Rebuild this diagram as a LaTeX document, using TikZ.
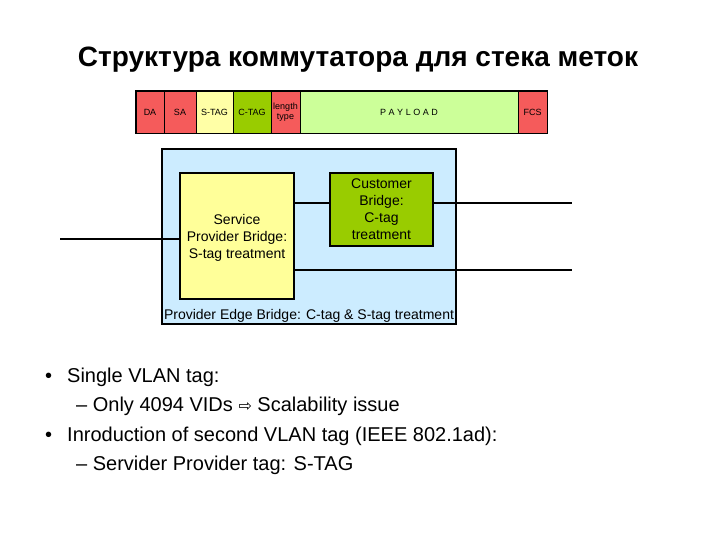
\documentclass[tikz,border=0pt]{standalone}
\usepackage{fontspec}
\setmainfont{Liberation Sans}
\newfontfamily\symfont{DejaVu Sans}
\definecolor{fred}{HTML}{F55B5B}
\definecolor{syel}{HTML}{FFFFA6}
\definecolor{cgrn}{HTML}{99CC00}
\definecolor{pgrn}{HTML}{CCFF99}
\definecolor{lblue}{HTML}{CCECFF}
\definecolor{bbyel}{HTML}{FFFF99}
\tikzset{
  cell/.style={draw=black, line width=0.6pt, inner sep=0pt, font=\fontsize{9}{9}\selectfont, align=center},
  bridge/.style={draw=black, line width=1.6pt, inner sep=0pt, align=center, font=\fontsize{14}{17}\selectfont},
  wire/.style={line width=1.6pt},
  bul/.style={anchor=base west, inner sep=0pt, font=\fontsize{20}{24}\selectfont}
}
\begin{document}
\begin{tikzpicture}[x=1pt,y=-1pt]
\path[use as bounding box, fill=white] (0,0) rectangle (720,540);
% title
\node[anchor=base, inner sep=0pt, font=\bfseries\fontsize{28}{32}\selectfont] (title) at (358,66.5) {Структура коммутатора для стека меток};
% frame strip
\node[cell, fill=fred, minimum width=28pt, minimum height=42pt] (da) at (150,112) {DA};
\node[cell, fill=fred, minimum width=32pt, minimum height=42pt] (sa) at (180,112) {SA};
\node[cell, fill=syel, minimum width=37pt, minimum height=42pt] (stag) at (214.5,112) {S-TAG};
\node[cell, fill=cgrn, minimum width=38pt, minimum height=42pt] (ctag) at (252,112) {C-TAG};
\node[cell, fill=fred, minimum width=29pt, minimum height=42pt, font=\fontsize{9}{10}\selectfont] (lt) at (285.5,112) {length\\type};
\node[cell, fill=pgrn, minimum width=218pt, minimum height=42pt] (pl) at (409,112) {P A Y L O A D};
\node[cell, fill=fred, minimum width=29pt, minimum height=42pt] (fcs) at (532.5,112) {FCS};
\draw[line width=1.4pt] (da.north west) rectangle (fcs.south east);
% provider edge bridge
\node[draw=black, line width=1.6pt, fill=lblue, minimum width=294pt, minimum height=175pt, inner sep=0pt] (peb) at (309,236.5) {};
\node[anchor=south, inner sep=2.5pt, font=\fontsize{14}{16}\selectfont] (peblabel) at (peb.south) {Provider Edge Bridge: C-tag \& S-tag treatment};
\node[bridge, fill=bbyel, minimum width=114pt, minimum height=126pt, text depth=0pt] (spb) at (237,236) {Service\\Provider Bridge:\\S-tag treatment};
\node[bridge, fill=cgrn, minimum width=103pt, minimum height=73pt] (cb) at (381.5,209.5) {Customer\\Bridge:\\C-tag\\treatment};
% wires
\coordinate (lin) at (60,239);
\coordinate (r1) at (572,203);
\coordinate (r2) at (572,270);
\draw[wire] (lin) -- (lin -| spb.west);
\draw[wire] (spb.east |- 0,203) -- (cb.west |- 0,203);
\draw[wire] (cb.east |- 0,203) -- (r1);
\draw[wire] (spb.east |- 0,270) -- (r2);
% bullets
\node[bul] (b1) at (45,382) {•};
\node[bul] (t1) at (67,382) {Single VLAN tag:};
\node[bul] (t2) at (76,411.5) {– Only 4094 VIDs {\symfont\fontsize{16}{18}\selectfont ⇨} Scalability issue};
\node[bul] (b2) at (45,441) {•};
\node[bul] (t3) at (67,441) {Inroduction of second VLAN tag (IEEE 802.1ad):};
\node[bul] (t4) at (76,470) {– Servider Provider tag: S-TAG};
\end{tikzpicture}
\end{document}
